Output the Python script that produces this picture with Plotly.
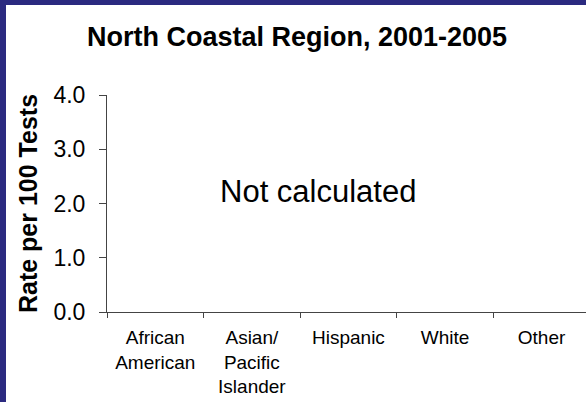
import plotly.graph_objects as go

categories = ["African<br>American", "Asian/<br>Pacific<br>Islander", "Hispanic", "White", "Other"]
rates = [None, None, None, None, None]  # rates were not calculated for this region
y_ticks = [0, 1, 2, 3, 4]
title_text = "North Coastal Region, 2001-2005"
y_title = "Rate per 100 Tests"
note_text = "Not calculated"

W, H = 586, 402
ML, MR, MT, MB = 107, 0, 95, 90
PW = W - ML - MR
PH = H - MT - MB
FONT = "Arial, Liberation Sans, sans-serif"
NAVY = "#2B2A80"
AXIS = "#444444"

def px_x(px):
    return (px - ML) / PW

def px_y(py):
    return 1 - (py - MT) / PH

fig = go.Figure()
fig.add_trace(go.Bar(x=categories, y=rates, marker_color="#3333AA", showlegend=False))

fig.update_layout(
    width=W, height=H,
    margin=dict(l=ML, r=MR, t=MT, b=MB, pad=0),
    paper_bgcolor=NAVY, plot_bgcolor="white",
    font=dict(family=FONT, color="black"),
    title=dict(text="<b>" + title_text + "</b>", x=px_x(297), xref="paper", xanchor="center",
               y=1 - 37 / H, yanchor="middle", font=dict(size=27, family=FONT, color="black")),
    xaxis=dict(
        type="category", range=[-0.5, 4.46], tickson="boundaries",
        showline=True, linecolor=AXIS, linewidth=1,
        ticks="outside", ticklen=5, tickcolor=AXIS,
        showgrid=False, zeroline=False,
        tickfont=dict(size=19, family=FONT, color="black"),
        ticklabelstandoff=8,
    ),
    yaxis=dict(
        range=[0, 4], tickvals=y_ticks, tickformat=".1f",
        showline=True, linecolor=AXIS, linewidth=1,
        ticks="outside", ticklen=7, tickcolor=AXIS,
        showgrid=False, zeroline=False,
        tickfont=dict(size=23, family=FONT, color="black"),
        ticklabelstandoff=9,
        title=dict(text="<b>" + y_title + "</b>", standoff=8,
                   font=dict(size=25, family=FONT, color="black")),
    ),
    annotations=[dict(text=note_text, xref="paper", yref="paper",
                      x=px_x(317.5), y=px_y(191), xanchor="center", yanchor="middle",
                      showarrow=False, font=dict(size=31, family=FONT, color="black"))],
    shapes=[
        dict(type="rect", xref="paper", yref="paper", layer="below", line_width=0, fillcolor="white",
             x0=px_x(6), x1=px_x(W + 10), y0=px_y(H + 10), y1=px_y(5)),
    ],
)

fig.write_html("out.html", config={"displayModeBar": False},
               post_script="document.body.style.margin='0';document.body.style.overflow='hidden';")
